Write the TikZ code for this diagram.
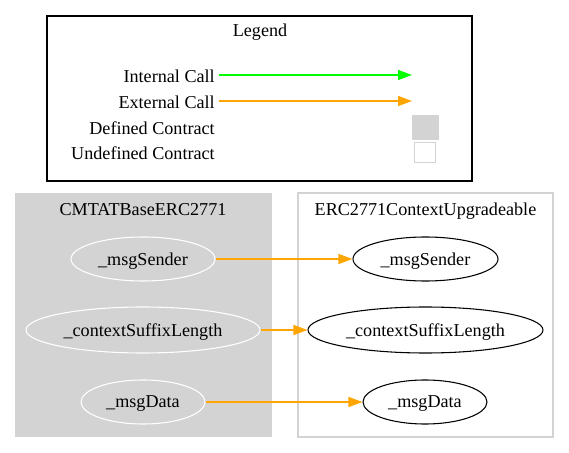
\documentclass[tikz,border=0pt]{standalone}
\usepackage{fontspec}
\setmainfont{Liberation Serif}
\usetikzlibrary{shapes.geometric,arrows.meta}
\definecolor{gvgray}{HTML}{D3D3D3}
\definecolor{gvorange}{HTML}{FFA500}
\definecolor{gvgreen}{HTML}{00FF00}
\tikzset{
  lbl/.style={font=\fontsize{13.6}{16}\selectfont, inner sep=0pt, text depth=0pt},
  fnode/.style={ellipse, draw, inner sep=0pt, line width=0.8pt, text depth=0pt, font=\fontsize{13.6}{16}\selectfont},
  call/.style={line width=1pt, -{Triangle[length=10.5pt,width=7.5pt]}},
}
\begin{document}
\begin{tikzpicture}[x=0.75pt,y=-0.75pt]
\useasboundingbox (0,0) rectangle (569,453);
% Legend
\draw[black, line width=0.9pt] (47,16) rectangle (472,181);
\node[lbl] (legt) at (260,30.5) {Legend};
\node[lbl, anchor=east] (li) at (215,76) {Internal Call};
\node[lbl, anchor=east] (le) at (215,102) {External Call};
\node[lbl, anchor=east] (ld) at (215,128) {Defined Contract};
\node[lbl, anchor=east] (lu) at (215,153) {Undefined Contract};
\coordinate (lia) at (219,75);
\coordinate (lib) at (412,75);
\coordinate (lea) at (219,101);
\coordinate (leb) at (412,101);
\draw[call, gvgreen] (lia) -- (lib);
\draw[call, gvorange] (lea) -- (leb);
\node[draw=gvgray, fill=gvgray, minimum width=26*0.75pt, minimum height=24*0.75pt, inner sep=0pt] (dsq) at (425,127) {};
\node[draw=gvgray, fill=white, line width=0.9pt, minimum width=21*0.75pt, minimum height=20*0.75pt, inner sep=0pt] (usq) at (425,152.5) {};
% Cluster 1
\fill[gvgray] (15,193) rectangle (272,437);
\node[lbl] (c1t) at (143,209) {CMTATBaseERC2771};
\node[fnode, draw=white, minimum width=144*0.75pt, minimum height=44*0.75pt] (a1) at (143,259) {\_msgSender};
\node[fnode, draw=white, minimum width=234*0.75pt, minimum height=46*0.75pt] (a2) at (143,330) {\_contextSuffixLength};
\node[fnode, draw=white, minimum width=124*0.75pt, minimum height=44*0.75pt] (a3) at (143,402) {\_msgData};
% Cluster 2
\draw[gvgray, line width=0.9pt] (298,193) rectangle (553,437);
\node[lbl] (c2t) at (425.5,209) {ERC2771ContextUpgradeable};
\node[fnode, draw=black, minimum width=145*0.75pt, minimum height=44*0.75pt] (b1) at (425.5,259) {\_msgSender};
\node[fnode, draw=black, minimum width=235*0.75pt, minimum height=46*0.75pt] (b2) at (425.5,330) {\_contextSuffixLength};
\node[fnode, draw=black, minimum width=124*0.75pt, minimum height=44*0.75pt] (b3) at (425,402) {\_msgData};
% Edges
\draw[call, gvorange] (a1.east) -- (b1.west);
\draw[call, gvorange] (a2.east) -- (b2.west);
\draw[call, gvorange] (a3.east) -- (b3.west);
\end{tikzpicture}
\end{document}
